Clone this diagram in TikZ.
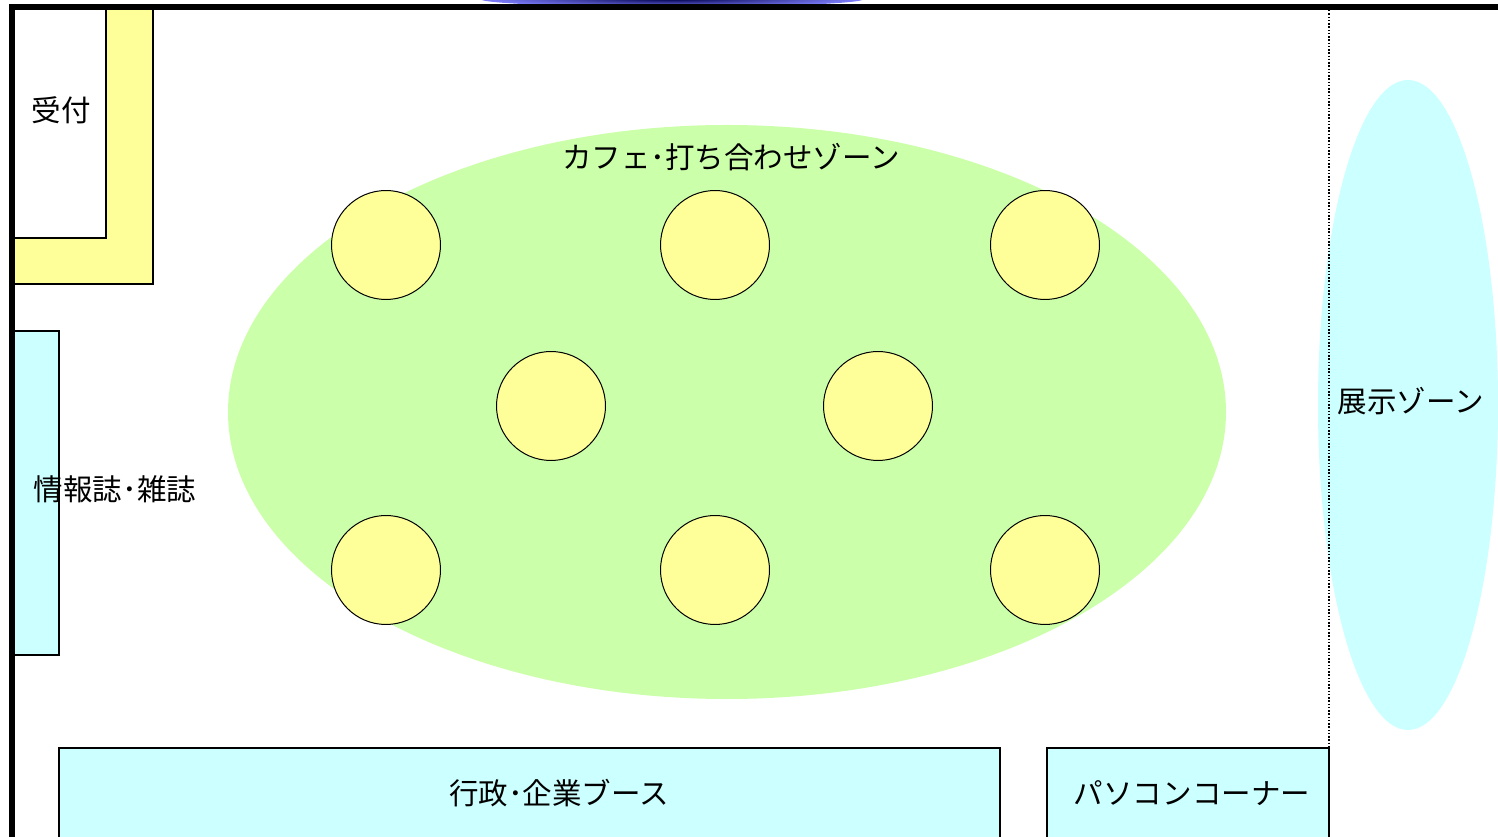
\documentclass[tikz,border=0pt]{standalone}
\usepackage{fontspec}
\setmainfont{Noto Sans CJK JP}
\usetikzlibrary{shapes.geometric,positioning}
\definecolor{cafegreen}{RGB}{204,255,170}
\definecolor{tableyellow}{RGB}{255,255,153}
\definecolor{boothcyan}{RGB}{204,255,255}
\definecolor{titleblue}{RGB}{128,128,255}

\begin{document}
\begin{tikzpicture}[x=0.02cm, y=-0.02cm,
    every node/.style={font=\fontsize{16.8}{19}\selectfont, inner sep=0pt},
    wall/.style={line width=0.12cm},
    edge/.style={line width=0.04cm},
    cafetable/.style={circle, draw, line width=0.02cm, fill=tableyellow, minimum size=2.18cm}]
    \useasboundingbox (0,0) rectangle (1498,837);
    % title bar peeking above the wall
    \begin{scope}
      \clip (0,0) rectangle (1498,5);
      \shade[inner color=black!70!blue, outer color=titleblue] (672,-1) ellipse [x radius=192, y radius=8];
    \end{scope}
    % zones
    \fill[cafegreen] (727,412) ellipse [x radius=499, y radius=287];
    \fill[boothcyan] (1408,405) ellipse [x radius=90, y radius=325];
    \node (cafe) at (731,157) {カフェ･打ち合わせゾーン};
    \node (tenji) at (1411,401) {展示ゾーン};
    % tables
    \foreach \i/\x/\y in {1/386/245, 2/715/245, 3/1045/245, 4/551/406,
                          5/878/406, 6/386/570, 7/715/570, 8/1045/570}
      \node[cafetable] (t\i) at (\x,\y) {};
    % reception
    \fill[tableyellow] (14,10) rectangle (153,284);
    \fill[white] (14,10) rectangle (106,238);
    \draw[edge] (106,10) -- (106,238) -- (14,238);
    \draw[edge] (153,10) -- (153,284) -- (14,284);
    \node (uketsuke) at (61,110) {受付};
    % magazine rack
    \draw[edge, fill=boothcyan] (14,331) rectangle (59,655);
    \node (zasshi) at (115,489) {情報誌･雑誌};
    % booths
    \draw[edge, fill=boothcyan] (59,748) rectangle (1000,860);
    \draw[edge, fill=boothcyan] (1047,748) rectangle (1329,860);
    \node (booth) at (559,793) {行政･企業ブース};
    \node (pc) at (1192,793) {パソコンコーナー};
    % partition and walls
    \draw[densely dotted, line width=0.03cm] (1329,10) -- (1329,748);
    \draw[wall] (1498,7) -- (12,7) -- (12,837);
\end{tikzpicture}
\end{document}
